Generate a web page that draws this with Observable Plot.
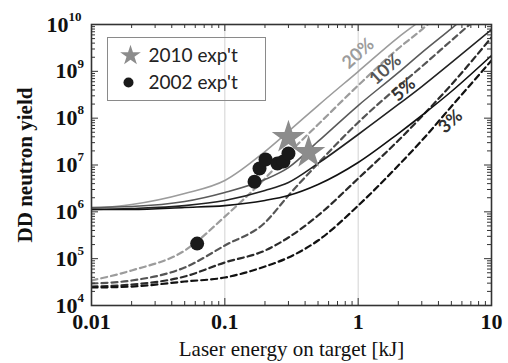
<!DOCTYPE html>
<html><head><meta charset="utf-8">
<script src="https://cdn.jsdelivr.net/npm/d3@7"></script>
<script src="https://cdn.jsdelivr.net/npm/@observablehq/plot@0.6"></script>
<style>body{margin:0;background:#fff}#chart{width:508px;height:363px}</style>
</head><body><div id="chart"></div>
<script>
// ---------- data ----------
const energy = [0.01, 0.02, 0.05, 0.1, 0.2, 0.3, 0.5, 1, 2, 3, 5, 10]; // kJ
// solid curves
const solid20 = [1.18e6, 1.43e6, 2.46e6, 4.67e6, 1.94e7, 5.2e7, 1.86e8, 9.9e8, 5.3e9, 1.28e10, 4.4e10];
const solid10 = [1.24e6, 1.30e6, 1.66e6, 2.59e6, 4.9e6, 8.8e6, 3.18e7, 1.86e8, 9.4e8, 2.52e9, 8.2e9, 4.2e10];
const solid5  = [1.12e6, 1.18e6, 1.36e6, 1.75e6, 2.85e6, 4.23e6, 1.08e7, 4.48e7, 1.96e8, 4.74e8, 1.54e9, 7.8e9];
const solid3  = [1.12e6, 1.12e6, 1.24e6, 1.36e6, 1.75e6, 2.23e6, 3.83e6, 1.13e7, 4.7e7, 1.14e8, 3.71e8, 2.18e9];
// dashed curves
const dashed20 = [3.42e4, 5.6e4, 1.49e5, 7.9e5, 5.15e6, 1.76e7, 7.3e7, 5.0e8, 3.07e9, 7.8e9, 2.95e10];
const dashed10 = [2.95e4, 3.42e4, 6.47e4, 1.91e5, 5.9e5, 2.23e6, 1.08e7, 8.1e7, 4.74e8, 1.27e9, 4.55e9, 2.55e10];
const dashed5  = [2.54e4, 2.8e4, 4.16e4, 8.3e4, 1.49e5, 2.83e5, 8.35e5, 5.15e6, 3.33e7, 1.085e8, 5.2e8, 5.3e9];
const dashed3  = [2.42e4, 2.54e4, 3.25e4, 3.96e4, 6.8e4, 1.06e5, 2.44e5, 1.36e6, 9.75e6, 3.33e7, 1.77e8, 1.70e9];
// experiments
const exp2010E = [0.30, 0.425];
const exp2010Y = [3.9e7, 1.85e7];
const exp2002E = [0.062, 0.167, 0.182, 0.202, 0.248, 0.275, 0.30];
const exp2002Y = [2.1e5, 4.4e6, 8.4e6, 1.31e7, 1.08e7, 1.19e7, 1.76e7];
// curve labels
const curveLabels = ["20%", "10%", "5%", "3%"];
const curveLabelE = [1.0, 1.6, 2.19, 4.93];
const curveLabelY = [2.4e9, 1.09e9, 4.1e8, 8.5e7];
// axes
const xMajor = [0.01, 0.1, 1, 10];
const xTickLabels = ["0.01", "0.1", "1", "10"];
const yMajor = [1e4, 1e5, 1e6, 1e7, 1e8, 1e9, 1e10];
const yExponents = ["4", "5", "6", "7", "8", "9", "10"];
const legendLabels = ["2010 exp't", "2002 exp't"];
const xTitle = "Laser energy on target [kJ]";
const yTitle = "DD neutron yield";

// ---------- styles ----------
const series = [
  {values: solid20, color: "#9c9c9c", dash: null},
  {values: dashed20, color: "#9c9c9c", dash: "6,4"},
  {values: solid10, color: "#5a5a5a", dash: null},
  {values: dashed10, color: "#555", dash: "6,4"},
  {values: solid5, color: "#222", dash: null},
  {values: dashed5, color: "#2a2a2a", dash: "6,4"},
  {values: solid3, color: "#111", dash: null},
  {values: dashed3, color: "#111", dash: "6,4"}
];
const labelColors = ["#9c9c9c", "#555", "#333", "#333"];

const W = 508, H = 363, mL = 91, mR = 17, mT = 24, mB = 58;
const plotW = W - mL - mR, plotH = H - mT - mB;

const minorOf = (majors) => majors.slice(0, -1).flatMap(d => [2,3,4,5,6,7,8,9].map(k => k * d));
const xMinor = minorOf(xMajor), yMinor = minorOf(yMajor);

const lineMarks = series.map(s => Plot.line(
  s.values.map((v, i) => ({E: energy[i], Y: v})),
  {x: "E", y: "Y", stroke: s.color, strokeWidth: s.dash ? 2.2 : 1.6,
   strokeDasharray: s.dash, curve: "monotone-x", clip: true}
));

const serif = "'Liberation Serif', 'Times New Roman', serif";
const sans = "Lato, 'Open Sans', sans-serif";
const tickStroke = "#333";
const expIdx = (d) => yMajor.indexOf(d);
const oneDigit = yMajor.filter((d, i) => yExponents[i].length === 1);
const twoDigit = yMajor.filter((d, i) => yExponents[i].length === 2);

const chart = Plot.plot({
  width: W, height: H,
  marginLeft: mL, marginRight: mR, marginTop: mT, marginBottom: mB,
  style: {background: "#fff", overflow: "visible"},
  x: {type: "log", domain: [0.01, 10], axis: null},
  y: {type: "log", domain: [1e4, 1e10], axis: null},
  marks: [
    Plot.ruleX([0.1, 1], {stroke: "#d2d2d2", strokeWidth: 1}),
    ...lineMarks,
    Plot.dot(exp2002E.map((e, i) => ({E: e, Y: exp2002Y[i]})), {x: "E", y: "Y", r: 7, fill: "#1a1a1a"}),
    Plot.dot(exp2010E.map((e, i) => ({E: e, Y: exp2010Y[i]})), {x: "E", y: "Y", r: 10.5, symbol: "star", fill: "#8c8c8c"}),
    Plot.text(curveLabels.map((t, i) => ({t, E: curveLabelE[i], Y: curveLabelY[i], c: labelColors[i]})),
      {x: "E", y: "Y", text: "t", fill: d => d.c, rotate: -42, fontSize: 18, fontWeight: "bold", fontFamily: sans}),
    // frame and ticks
    Plot.frame({stroke: tickStroke, strokeWidth: 1.6}),
    Plot.tickX(xMajor, {x: d => d, insetTop: plotH - 7, stroke: tickStroke}),
    Plot.tickX(xMajor, {x: d => d, insetBottom: plotH - 7, stroke: tickStroke}),
    Plot.tickX(xMinor, {x: d => d, insetTop: plotH - 4, stroke: tickStroke}),
    Plot.tickX(xMinor, {x: d => d, insetBottom: plotH - 4, stroke: tickStroke}),
    Plot.tickY(yMajor, {y: d => d, insetRight: plotW - 7, stroke: tickStroke}),
    Plot.tickY(yMajor, {y: d => d, insetLeft: plotW - 7, stroke: tickStroke}),
    Plot.tickY(yMinor, {y: d => d, insetRight: plotW - 4, stroke: tickStroke}),
    Plot.tickY(yMinor, {y: d => d, insetLeft: plotW - 4, stroke: tickStroke}),
    // x tick labels
    Plot.text(xMajor, {x: d => d, frameAnchor: "bottom", text: (d, i) => xTickLabels[i], dy: 8, lineAnchor: "top",
      textAnchor: "middle", fontSize: 22, fontWeight: "bold", fontFamily: serif, fill: "#111"}),
    // y tick labels: base + superscript
    Plot.text(oneDigit, {y: d => d, frameAnchor: "left", text: () => "10", lineAnchor: "middle",
      textAnchor: "end", dx: -14, fontSize: 22, fontWeight: "bold", fontFamily: serif, fill: "#111"}),
    Plot.text(oneDigit, {y: d => d, frameAnchor: "left", text: d => yExponents[expIdx(d)], lineAnchor: "middle",
      textAnchor: "start", dx: -14, dy: -8, fontSize: 13, fontWeight: "bold", fontFamily: serif, fill: "#111"}),
    Plot.text(twoDigit, {y: d => d, frameAnchor: "left", text: () => "10", lineAnchor: "middle",
      textAnchor: "end", dx: -23, fontSize: 22, fontWeight: "bold", fontFamily: serif, fill: "#111"}),
    Plot.text(twoDigit, {y: d => d, frameAnchor: "left", text: d => yExponents[expIdx(d)], lineAnchor: "middle",
      textAnchor: "start", dx: -23, dy: -8, fontSize: 13, fontWeight: "bold", fontFamily: serif, fill: "#111"}),
    // axis titles
    Plot.text([xTitle], {frameAnchor: "bottom", text: d => d, dy: 50, lineAnchor: "bottom", textAnchor: "middle",
      fontSize: 21, fontFamily: serif, fill: "#111"}),
    Plot.text([yTitle], {frameAnchor: "left", text: d => d, rotate: -90, dx: -66, textAnchor: "middle", lineAnchor: "middle",
      fontSize: 21, fontWeight: "bold", fontFamily: serif, fill: "#111"}),
    // legend
    Plot.frame({insetLeft: 16, insetTop: 13, insetRight: 226, insetBottom: 205, stroke: "#8a8a8a", strokeWidth: 1}),
    Plot.dot([legendLabels[0]], {frameAnchor: "top-left", dx: 39, dy: 31, r: 6.5, symbol: "star", fill: "#8c8c8c"}),
    Plot.dot([legendLabels[1]], {frameAnchor: "top-left", dx: 37, dy: 58, r: 5, fill: "#1a1a1a"}),
    Plot.text([legendLabels[0]], {frameAnchor: "top-left", text: d => d, dx: 57, dy: 31, textAnchor: "start", lineAnchor: "middle",
      fontSize: 19, fontFamily: sans, fill: "#222"}),
    Plot.text([legendLabels[1]], {frameAnchor: "top-left", text: d => d, dx: 57, dy: 58, textAnchor: "start", lineAnchor: "middle",
      fontSize: 19, fontFamily: sans, fill: "#222"})
  ]
});
document.getElementById("chart").appendChild(chart);
</script></body></html>
